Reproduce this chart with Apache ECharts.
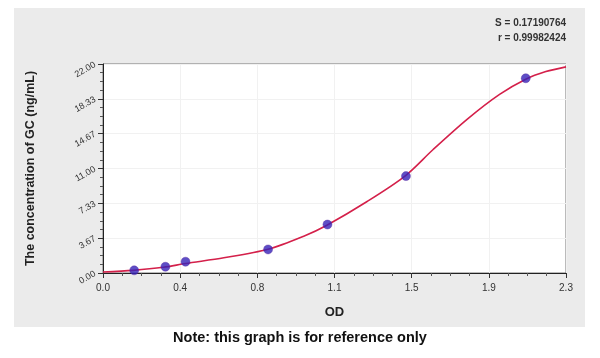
<!DOCTYPE html>
<html><head><meta charset="utf-8">
<script src="https://cdn.jsdelivr.net/npm/echarts@6/dist/echarts.min.js"></script>
<style>html,body{margin:0;padding:0;background:#fff}#c{width:600px;height:358px}</style>
</head><body><div id="c"></div>
<script>
// Standard points
const odValues = [0.155, 0.31, 0.41, 0.82, 1.115, 1.505, 2.10];
const concValues = [0.28, 0.66, 1.19, 2.48, 5.1, 10.2, 20.5];
// Fitted curve
const curveOD = [0, 0.15, 0.3, 0.41, 0.6, 0.82, 1.0, 1.11, 1.31, 1.5, 1.64, 1.81, 1.97, 2.1, 2.2, 2.3];
const curveConc = [0.1, 0.28, 0.6, 1.0, 1.6, 2.5, 3.9, 5.0, 7.5, 10.2, 13.0, 16.2, 18.8, 20.4, 21.2, 21.7];
const xMax = 2.3, yMax = 22;
const statText = ['S = 0.17190764', 'r = 0.99982424'];

const chart = echarts.init(document.getElementById('c'), null, {renderer: 'canvas'});
chart.setOption({
  animation: false,
  backgroundColor: '#fff',
  graphic: [
    {type: 'rect', z: -10, shape: {x: 14, y: 8, width: 571, height: 319}, style: {fill: '#ebebeb'}},
    {type: 'text', x: 566, y: 16, style: {text: statText.join('\n'), align: 'right', font: 'bold 10px Arial, "Liberation Sans"', fill: '#333', lineHeight: 15}},
    {type: 'text', left: 'center', top: 330, style: {text: 'Note: this graph is for reference only', font: 'bold 14.5px Arial, "Liberation Sans"', fill: '#111'}}
  ],
  grid: {left: 103, right: 34, top: 64, bottom: 85, show: true, backgroundColor: '#fff', borderColor: '#777', borderWidth: 1},
  xAxis: {
    type: 'value', min: 0, max: xMax, interval: xMax / 6,
    name: 'OD', nameLocation: 'middle', nameGap: 33,
    nameTextStyle: {fontWeight: 'bold', fontSize: 13, color: '#222', fontFamily: 'Arial'},
    axisLine: {lineStyle: {color: '#222'}},
    axisTick: {length: 5, lineStyle: {color: '#333'}},
    minorTick: {show: true, splitNumber: 4, length: 3, lineStyle: {color: '#555'}},
    splitLine: {show: true, lineStyle: {color: '#f1f1f1'}},
    axisLabel: {formatter: v => v.toFixed(1), fontSize: 10, color: '#333', margin: 10, fontFamily: 'Arial'}
  },
  yAxis: {
    type: 'value', min: 0, max: yMax, interval: yMax / 6,
    name: 'The concentration of GC (ng/mL)', nameLocation: 'middle', nameGap: 66,
    nameTextStyle: {fontWeight: 'bold', fontSize: 12.5, color: '#222', fontFamily: 'Arial'},
    axisLine: {show: true, lineStyle: {color: '#222'}},
    axisTick: {show: true, length: 5, lineStyle: {color: '#333'}},
    minorTick: {show: true, splitNumber: 4, length: 3, lineStyle: {color: '#555'}},
    splitLine: {show: true, lineStyle: {color: '#f1f1f1'}},
    axisLabel: {formatter: v => v.toFixed(2), fontSize: 9, color: '#333', rotate: 30, margin: 8, fontFamily: 'Arial'}
  },
  series: [
    {type: 'line', data: curveOD.map((x, i) => [x, curveConc[i]]), smooth: 0.3, showSymbol: false,
     lineStyle: {color: '#d4204a', width: 1.6}, z: 2},
    {type: 'scatter', data: odValues.map((x, i) => [x, concValues[i]]), symbolSize: 9,
     itemStyle: {color: '#3422b8', borderColor: '#5a2aa0', borderWidth: 0.5}, z: 3}
  ]
});
</script></body></html>
